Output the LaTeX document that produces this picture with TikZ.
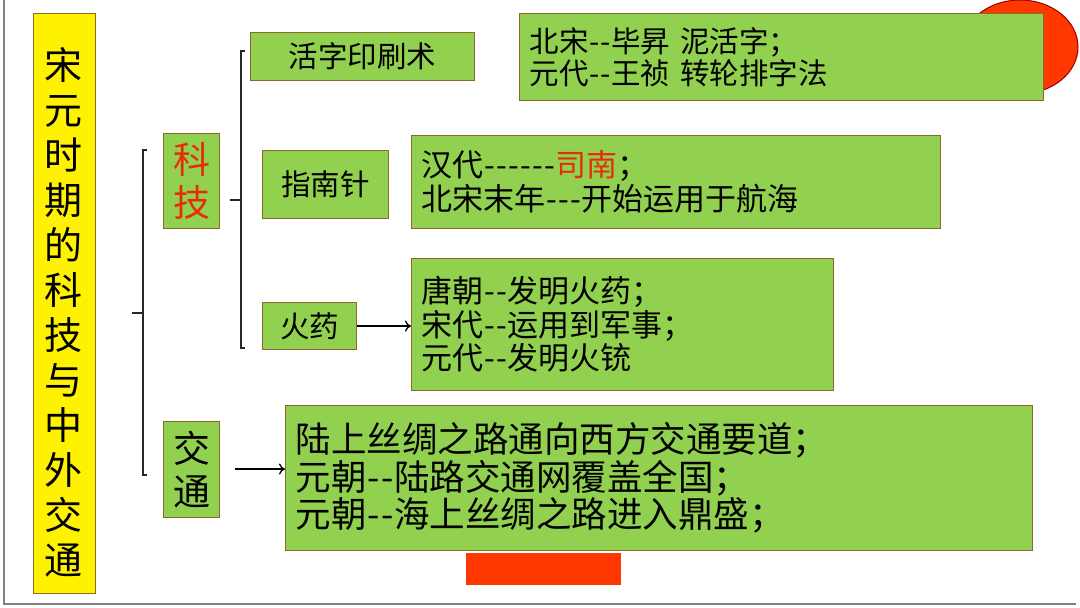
\documentclass[tikz,border=0pt]{standalone}
\usepackage{fontspec}
\setmainfont{Noto Sans CJK SC}
\usetikzlibrary{arrows.meta}
\definecolor{gfill}{RGB}{146,208,80}
\definecolor{gedge}{RGB}{140,105,45}
\definecolor{redtxt}{RGB}{230,45,10}
\definecolor{redfill}{RGB}{255,56,0}
\definecolor{frame}{RGB}{130,130,130}
\newcommand\hy{\kern0.02em-\kern0.02em}
\begin{document}
\begin{tikzpicture}[x=1pt,y=-1pt,
  gbox/.style={draw=gedge,fill=gfill,line width=1.1pt,inner xsep=10pt,inner ysep=0pt,align=left,anchor=north west},
  lbox/.style={draw=gedge,fill=gfill,line width=1.1pt,inner sep=0pt,anchor=north west,align=center},
  bracket/.style={draw=black!85,line width=1.6pt},
  arr/.style={draw=black,line width=1.3pt,-{To[length=6pt,width=11pt]}},
  f30/.style={font=\fontsize{29.5}{31.5}\selectfont},
  f31/.style={font=\fontsize{31}{33.5}\selectfont},
  f35/.style={font=\fontsize{35.5}{37.5}\selectfont}]
\useasboundingbox (0,0) rectangle (1080,608);
\fill[white] (0,0) rectangle (1080,608);
% slide frame
\draw[frame,line width=2pt] (4,0) -- (4,604) -- (1076,604);
% red ellipse behind
\draw[fill=redfill,draw=red!60!black,line width=1pt] (1020,47) ellipse [x radius=58, y radius=47];
% yellow title
\node[draw=gedge,fill=yellow,line width=1.1pt,anchor=north west,minimum width=62pt,minimum height=580pt,inner sep=0pt] (title) at (33,13) {};
\node[font=\fontsize{38}{45}\selectfont,align=center,inner sep=0pt] (titletext) at (64,312) {宋\\元\\时\\期\\的\\科\\技\\与\\中\\外\\交\\通};
% second level
\node[lbox,minimum width=56pt,minimum height=95pt,font=\fontsize{37}{43}\selectfont,text=redtxt] (keji) at (163,133) {科\\技};
\node[lbox,minimum width=56pt,minimum height=96pt,font=\fontsize{37}{43}\selectfont] (jiaotong) at (163,421) {交\\通};
% third level
\node[lbox,minimum width=224pt,minimum height=48pt,f30] (huozi) at (250,32) {活字印刷术};
\node[lbox,minimum width=126pt,minimum height=68pt,f30] (zhinan) at (262,150) {指南针};
\node[lbox,minimum width=94pt,minimum height=47pt,f30] (huoyao) at (262,302) {火药};
% detail boxes
\node[gbox,f30,text width=504pt,minimum height=87pt] (b1) at (519,13) {北宋\hy\hy 毕昇 泥活字；\\元代\hy\hy 王祯 转轮排字法};
\node[gbox,f31,text width=509pt,minimum height=93pt] (b2) at (411,135) {汉代\hy\hy\hy\hy\hy\hy\textcolor{redtxt}{司南}；\\北宋末年\hy\hy\hy 开始运用于航海};
\node[gbox,f31,text width=402pt,minimum height=132pt] (b3) at (411,258) {唐朝\hy\hy 发明火药；\\宋代\hy\hy 运用到军事；\\元代\hy\hy 发明火铳};
\node[gbox,f35,text width=727pt,minimum height=145pt] (b4) at (285,405) {陆上丝绸之路通向西方交通要道；\\元朝\hy\hy 陆路交通网覆盖全国；\\元朝\hy\hy 海上丝绸之路进入鼎盛；};
% red bar
\fill[redfill] (466,553) rectangle (621,585);
% brackets
\draw[bracket] (147,150) -- (143,150) -- (143,475) -- (147,475);
\draw[bracket] (132,313) -- (143,313);
\draw[bracket] (245,51) -- (241,51) -- (241,348) -- (245,348);
\draw[bracket] (230,200) -- (241,200);
% arrows
\draw[arr] (huoyao.east) -- (b3.west |- huoyao.east);
\draw[arr,shorten <=15pt] (jiaotong.east |- 0,469) -- (b4.west |- 0,469);
\end{tikzpicture}
\end{document}
